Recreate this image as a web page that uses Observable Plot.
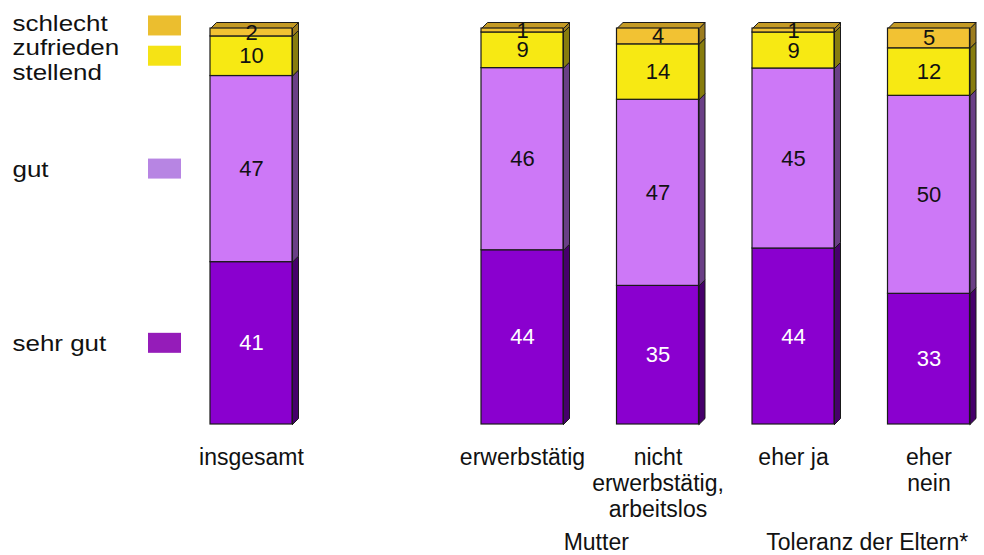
<!DOCTYPE html>
<html><head><meta charset="utf-8">
<script src="https://cdn.jsdelivr.net/npm/d3@7"></script>
<script src="https://cdn.jsdelivr.net/npm/@observablehq/plot@0.6"></script>
<style>body{margin:0;background:#fff} svg{display:block}</style>
</head><body><div id="chart"></div>
<script>
// ---- data ----
const categories = ["insgesamt", "erwerbstätig", "nicht\nerwerbstätig,\narbeitslos", "eher ja", "eher\nnein"];
const groups = ["", "Mutter", "Mutter", "Toleranz der Eltern*", "Toleranz der Eltern*"];
const levels = ["sehr gut", "gut", "zufrieden\nstellend", "schlecht"];
const sehrGut   = [41, 44, 35, 44, 33];
const gut       = [47, 46, 47, 45, 50];
const zufrieden = [10,  9, 14,  9, 12];
const schlecht  = [ 2,  1,  4,  1,  5];
const series = [sehrGut, gut, zufrieden, schlecht];

// ---- styles ----
const frontColors  = ["#8A00CF", "#CD78F7", "#F7E913", "#F2C233"];
const sideColors   = ["#46006B", "#6A3F86", "#877C0E", "#9C7C1E"];
const topColor     = "#C49A24";
const legendColors = ["#951CB9", "#B785E3", "#F5E315", "#EBBE2F"];
const labelColors  = ["#ffffff", "#111111", "#111111", "#111111"];
const FONT = "Arial, 'Liberation Sans', sans-serif";

// ---- layout ----
const W = 984, H = 555, slotPx = 135.5, firstPx = 251, bottomPx = 424, topPx = 28;
const pxX = p => p / slotPx;
const pxY = p => p * 100 / (bottomPx - topPx);
const halfW = pxX(41), depthX = pxX(6), depthY = pxY(6);
const slot = i => (i === 0 ? 0 : i + 1);

const segs = [];
categories.forEach((c, i) => {
  const total = d3.sum(series, s => s[i]);
  let cum = 0;
  series.forEach((s, k) => {
    const lo = cum / total * 100; cum += s[i]; const hi = cum / total * 100;
    segs.push({cat: c, i, k, value: s[i], x1: slot(i) - halfW, x2: slot(i) + halfW, xc: slot(i), lo, hi});
  });
});

const polys = [];
segs.forEach((d, j) => {
  const id = "s" + j;
  [[d.x2, d.lo], [d.x2 + depthX, d.lo + depthY], [d.x2 + depthX, d.hi + depthY], [d.x2, d.hi], [d.x2, d.lo]]
    .forEach(([x, y]) => polys.push({id, x, y, fill: sideColors[d.k]}));
  if (d.k === series.length - 1) {
    const tid = "t" + j;
    [[d.x1, d.hi], [d.x1 + depthX, d.hi + depthY], [d.x2 + depthX, d.hi + depthY], [d.x2, d.hi], [d.x1, d.hi]]
      .forEach(([x, y]) => polys.push({id: tid, x, y, fill: topColor}));
  }
});

// group labels
const groupData = [];
d3.groups(groups.map((g, i) => ({g, i})).filter(d => d.g), d => d.g).forEach(([g, arr]) => {
  groupData.push({name: g, x: d3.mean(arr, d => slot(d.i))});
});

// legend (aligned with the overall bar's segments)
const legend = levels.map((name, k) => {
  const s = segs.find(d => d.i === 0 && d.k === k);
  let yc = (s.lo + s.hi) / 2;
  let ty = yc;
  if (k === levels.length - 1) { yc += pxY(6.5); ty = yc + pxY(3); }
  if (name.includes("\n")) ty = yc - pxY(3);
  return {name, k, yc, ty};
});
const legX1 = -pxX(103), legX2 = -pxX(70), legText = -pxX(239), swH = pxY(10);

const plot = Plot.plot({
  width: W, height: H,
  marginTop: topPx, marginBottom: H - bottomPx, marginLeft: 0, marginRight: 0,
  x: {type: "linear", domain: [-firstPx / slotPx, (W - firstPx) / slotPx], axis: null},
  y: {domain: [0, 100], axis: null},
  style: {fontFamily: FONT, background: "#fff", overflow: "visible"},
  marks: [
    Plot.line(polys, {x: "x", y: "y", z: "id", fill: "fill", stroke: "#1a1a1a", strokeWidth: 1, curve: "linear"}),
    Plot.rect(segs, {x1: "x1", x2: "x2", y1: "lo", y2: "hi", fill: d => frontColors[d.k], stroke: "#1a1a1a", strokeWidth: 1.2}),
    Plot.text(segs, {x: "xc", y: d => (d.lo + d.hi) / 2, text: d => String(d.value), fill: d => labelColors[d.k], fontSize: 22}),
    Plot.text(categories, {x: (d, i) => slot(i), y: () => 0, text: d => d, lineAnchor: "top", dy: 22, fontSize: 23, lineHeight: 1.13, fill: "#111"}),
    Plot.text(groupData, {x: "x", y: () => 0, text: "name", lineAnchor: "top", dy: 109, dx: 6, fontSize: 23, fill: "#111"}),
    Plot.rect(legend, {x1: () => legX1, x2: () => legX2, y1: d => d.yc - swH, y2: d => d.yc + swH, fill: d => legendColors[d.k]}),
    Plot.text(legend, {x: () => legText, y: "ty", text: "name", textAnchor: "start", lineAnchor: "middle", fontSize: 22, lineHeight: 1.15, fill: "#111"})
  ]
});
document.getElementById("chart").appendChild(plot);

// legend labels are drawn slightly wide in the reference
const legendNames = levels.map(s => s.replace(/\n/g, ""));
const xs = plot.scale("x");
const lx = xs && xs.apply ? xs.apply(legText) : firstPx - 239;
d3.select(plot).selectAll("text").filter(function() {
  return legendNames.includes(this.textContent.replace(/\s/g, "").replace("sehrgut", "sehr gut")) || legendNames.includes(this.textContent);
}).each(function() {
  const g = document.createElementNS("http://www.w3.org/2000/svg", "g");
  this.parentNode.insertBefore(g, this);
  g.appendChild(this);
  g.setAttribute("transform", `translate(${lx},0) scale(1.18,1) translate(${-lx},0)`);
});
</script>
</body></html>
